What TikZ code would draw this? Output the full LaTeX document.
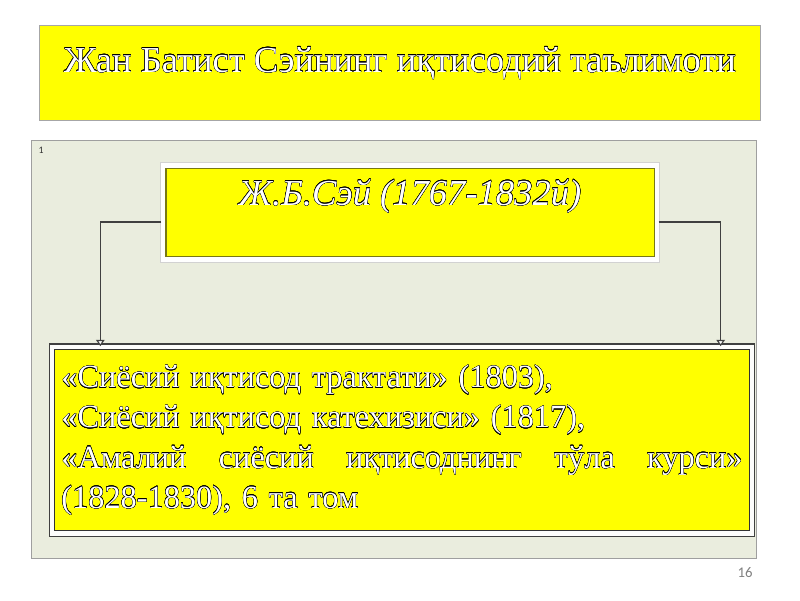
\documentclass[tikz,border=0pt]{standalone}
\usepackage{fontspec}
\setmainfont{Liberation Serif}
\newfontfamily\pagefont{Carlito}
\usepackage{contour}
\contourlength{0.16pt}
\contournumber{16}
\usepackage{tikz}
\usetikzlibrary{calc, positioning, arrows.meta}

\definecolor{panelbg}{RGB}{234,237,222}
\definecolor{boxyellow}{RGB}{255,255,0}
\definecolor{olivebd}{RGB}{120,120,20}

% outlined white text
\newcommand{\olt}[1]{\contour{black}{#1}}

\tikzset{
    titlebox/.style={draw=gray!70, line width=0.6pt, fill=boxyellow, text=white,
        minimum width=18cm, minimum height=2.375cm, inner ysep=0pt},
    panel/.style={draw=gray!75, line width=0.7pt, fill=panelbg,
        minimum width=18.125cm, minimum height=10.45cm, inner sep=0pt},
    seybox/.style={draw=olivebd, line width=0.8pt, fill=boxyellow, text=white,
        preaction={draw=gray!35, line width=9pt},
        preaction={draw=white, line width=7pt},
        minimum width=12.2cm, minimum height=2.21cm, inner ysep=0pt},
    workbox/.style={draw=black!80, line width=0.8pt, fill=boxyellow, text=white,
        preaction={draw=black!75, line width=9pt},
        preaction={draw=white!90!panelbg, line width=7pt},
        minimum width=17.35cm, minimum height=4.525cm, inner xsep=0.16cm},
    conn/.style={draw=black!75, line width=0.8pt,
        -{Triangle[fill=white, length=4.5pt, width=6pt]}}
}

\begin{document}
\begin{tikzpicture}[x=0.025cm, y=-0.025cm]
    \useasboundingbox (0,0) rectangle (800,600);

    % heading
    \node[titlebox, text height=1.175cm, text depth=1.2cm,
        font=\fontsize{26}{30}\selectfont] (title) at (400,72.5)
        {\olt{Жан Батист Сэйнинг иқтисодий таълимоти}};

    % slide panel
    \node[panel] (panel) at (394,349.5) {};
    \node[font=\pagefont\fontsize{7}{8}\selectfont, text=black!80] (slideno) at (41,150) {1};

    \node[seybox, text height=0.92cm, text depth=1.29cm,
        font=\itshape\fontsize{26}{28}\selectfont] (sey) at (410,212.5)
        {\olt{Ж.Б.Сэй (1767-1832й)}};

    \node[workbox, text width=17.025cm, align=left,
        font=\fontsize{23}{28.5}\selectfont] (works) at (402,440.3)
        {\olt{«Сиёсий иқтисод трактати» (1803),}\\
         \olt{«Сиёсий иқтисод катехизиси» (1817),}\\
         \olt{«Амалий}\hfill\olt{сиёсий}\hfill\olt{иқтисоднинг}\hfill\olt{тўла}\hfill\olt{курси»}\\
         \olt{(1828-1830), 6 та том}};

    % connectors
    \draw[conn] ($(sey.west)+(-4,9.5)$) -| ($(works.north west)+(46,-3)$);
    \draw[conn] ($(sey.east)+(4,9.5)$) -| ($(works.north east)+(-29,-3)$);

    \node[font=\pagefont\fontsize{10.5}{12}\selectfont, text=gray] (page) at (745,573) {16};
\end{tikzpicture}
\end{document}
